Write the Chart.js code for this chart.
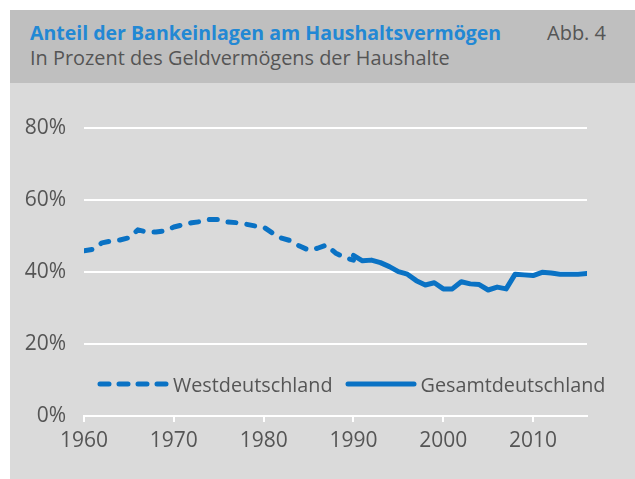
<!DOCTYPE html>
<html lang="de">
<head>
  <meta charset="UTF-8">
  <title>Anteil der Bankeinlagen am Haushaltsvermögen</title>
  <script src="https://cdn.jsdelivr.net/npm/chart.js"></script>
  <style>
    body { margin: 0; width: 635px; height: 479px; background: #fff; position: relative; overflow: hidden; font-family: "Open Sans", sans-serif; }
    #header { position: absolute; left: 10px; top: 10px; width: 625px; height: 73px; background: #bfbfbf; }
    #panel { position: absolute; left: 10px; top: 83px; width: 625px; height: 396px; background: #dadada; }
    .txt { position: absolute; white-space: nowrap; line-height: 1; }
    #title { left: 30px; top: 23px; font-size: 19.5px; font-weight: bold; color: #2288d4; }
    #abb { left: 547px; top: 23px; font-size: 20px; color: #555; }
    #sub { left: 30px; top: 48px; font-size: 19.9px; color: #555; }
    #legend { position: absolute; left: 97px; top: 372px; height: 24px; display: flex; align-items: center; font-size: 19.8px; color: #555; }
    #legend svg { display: block; }
  </style>
</head>
<body>
  <div id="header"></div>
  <div id="panel"><canvas id="chart" width="625" height="396"></canvas></div>
  <div class="txt" id="title">Anteil der Bankeinlagen am Haushaltsvermögen</div>
  <div class="txt" id="abb">Abb. 4</div>
  <div class="txt" id="sub">In Prozent des Geldvermögens der Haushalte</div>
  <div id="legend">
    <svg width="72" height="10"><line x1="3" y1="5" x2="69" y2="5" stroke="#0a72c4" stroke-width="5" stroke-linecap="round" stroke-dasharray="9 10"/></svg>
    <span style="margin-left:4px">Westdeutschland</span>
    <svg width="72" height="10" style="margin-left:12px"><line x1="3" y1="5" x2="69" y2="5" stroke="#0a72c4" stroke-width="5" stroke-linecap="round"/></svg>
    <span style="margin-left:4px">Gesamtdeutschland</span>
  </div>

  <script>
    // Werte (Prozent)
    const westYears = [1960, 1961, 1962, 1963, 1964, 1965, 1966, 1967, 1968, 1969,
                       1970, 1971, 1972, 1973, 1974, 1975, 1976, 1977, 1978, 1979,
                       1980, 1981, 1982, 1983, 1984, 1985, 1986, 1987, 1988, 1989, 1990];
    const westValues = [45.9, 46.3, 48.1, 48.6, 48.9, 49.5, 51.7, 51.1, 51.1, 51.4,
                        52.5, 53.1, 53.7, 54.0, 54.6, 54.6, 53.9, 53.7, 53.3, 52.8,
                        52.5, 50.8, 49.4, 48.7, 47.2, 46.1, 46.6, 47.5, 45.3, 44.0, 43.3];
    const gesamtYears = [1990, 1991, 1992, 1993, 1994, 1995, 1996, 1997, 1998, 1999,
                         2000, 2001, 2002, 2003, 2004, 2005, 2006, 2007, 2008, 2009,
                         2010, 2011, 2012, 2013, 2014, 2015, 2016];
    const gesamtValues = [44.6, 43.1, 43.3, 42.6, 41.5, 40.1, 39.4, 37.6, 36.4, 37.0,
                          35.3, 35.3, 37.3, 36.7, 36.5, 35.0, 35.8, 35.3, 39.4, 39.2,
                          39.0, 39.9, 39.7, 39.4, 39.4, 39.4, 39.6];
    const xTicks = [1960, 1970, 1980, 1990, 2000, 2010];
    const yTicks = [0, 20, 40, 60, 80];

    const blue = '#0a72c4';
    const grey = '#555555';
    const toPoints = (xs, ys) => xs.map((x, i) => ({ x: x, y: ys[i] }));

    new Chart(document.getElementById('chart'), {
      type: 'line',
      data: {
        datasets: [{
          label: 'Westdeutschland',
          data: toPoints(westYears, westValues),
          borderColor: blue,
          borderWidth: 5,
          borderDash: [8, 11],
          borderCapStyle: 'round',
          borderJoinStyle: 'round',
          pointRadius: 0,
          tension: 0
        }, {
          label: 'Gesamtdeutschland',
          data: toPoints(gesamtYears, gesamtValues),
          borderColor: blue,
          borderWidth: 5,
          borderCapStyle: 'round',
          borderJoinStyle: 'round',
          pointRadius: 0,
          tension: 0
        }]
      },
      options: {
        responsive: false,
        animation: false,
        layout: { padding: { top: 45, right: 48, left: 0, bottom: 0 } },
        plugins: { legend: { display: false }, tooltip: { enabled: false } },
        scales: {
          x: {
            type: 'linear',
            min: 1960,
            max: 2016,
            afterFit: s => { s.height = 63; },
            afterBuildTicks: s => { s.ticks = xTicks.map(v => ({ value: v })); },
            grid: { drawOnChartArea: false, color: '#fff', lineWidth: 2, tickLength: 6 },
            border: { color: '#fff', width: 2 },
            ticks: { color: grey, font: { family: 'Open Sans', size: 21 }, padding: 6, maxRotation: 0, callback: v => String(v) }
          },
          y: {
            min: 0,
            max: 80,
            afterFit: s => { s.width = 74; },
            afterBuildTicks: s => { s.ticks = yTicks.map(v => ({ value: v })); },
            grid: { color: '#fff', lineWidth: 2, drawTicks: false },
            border: { display: false },
            ticks: { color: grey, font: { family: 'Open Sans', size: 21 }, padding: 18, callback: v => v + '%' }
          }
        }
      }
    });
  </script>
</body>
</html>
